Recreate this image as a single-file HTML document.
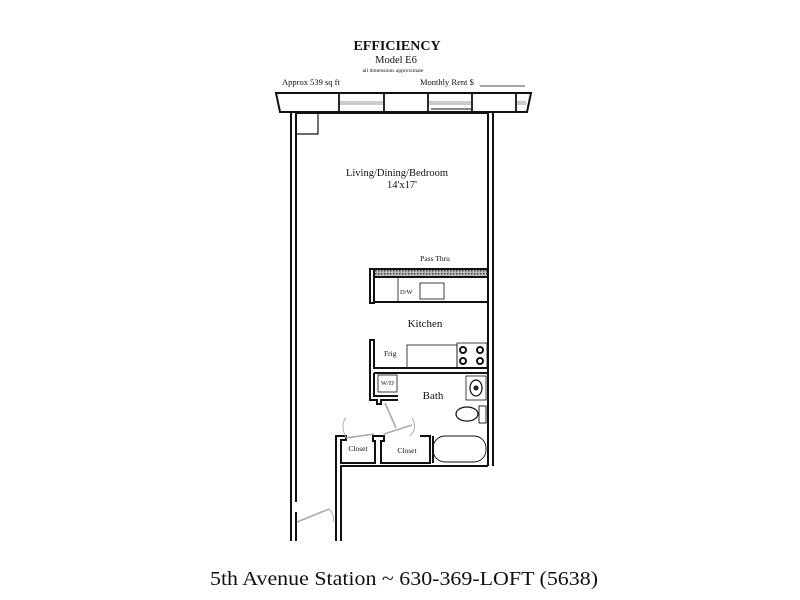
<!DOCTYPE html>
<html><head><style>
body{margin:0;background:#fff;width:800px;height:600px;overflow:hidden}
svg{display:block}
text{font-family:"Liberation Serif",serif;fill:#111}
</style></head><body>
<svg width="800" height="600" viewBox="0 0 800 600">
<defs>
<pattern id="h" width="3" height="3" patternUnits="userSpaceOnUse"><rect width="3" height="3" fill="#bbb"/><rect width="1.5" height="1.5" fill="#444"/></pattern>
</defs>
<text x="397" y="50" font-size="14" font-weight="bold" text-anchor="middle">EFFICIENCY</text>
<text x="396" y="63" font-size="10.5" text-anchor="middle">Model E6</text>
<text x="393" y="72" font-size="5.5" text-anchor="middle" font-family="Liberation Mono">all dimensions approximate</text>
<text x="282" y="85" font-size="8.5">Approx 539 sq ft</text>
<text x="420" y="85" font-size="8.5">Monthly Rent  $</text>
<line x1="480" y1="86" x2="525" y2="86" stroke="#111" stroke-width="0.7"/>
<!-- header band -->
<polygon points="276,93 531,93 527,112 280,112" fill="#fff" stroke="#111" stroke-width="2"/>
<g stroke="#111" stroke-width="1.8">
<line x1="339" y1="93" x2="339" y2="112"/><line x1="384" y1="93" x2="384" y2="112"/>
<line x1="428" y1="93" x2="428" y2="112"/><line x1="472" y1="93" x2="472" y2="112"/>
<line x1="516" y1="93" x2="516" y2="112"/>
</g>
<g fill="#ccc"><rect x="340" y="101" width="43" height="4"/><rect x="429" y="101" width="42" height="4"/><rect x="517" y="101" width="9" height="4"/></g>
<line x1="431" y1="109" x2="471" y2="109" stroke="#111"/>
<!-- walls -->
<g fill="none" stroke="#111" stroke-width="2">
<line x1="291" y1="112" x2="291" y2="541"/><line x1="296" y1="112" x2="296" y2="502"/><line x1="296" y1="512" x2="296" y2="541"/>
<line x1="488" y1="112" x2="488" y2="466"/><line x1="493" y1="112" x2="493" y2="466"/>
<line x1="296" y1="113" x2="488" y2="113"/>
<polyline points="296,134 318,134 318,113" stroke-width="1.2"/>
<!-- kitchen -->
<rect x="370" y="269" width="4" height="34"/>
<rect x="374" y="269" width="114" height="8" fill="url(#h)"/>
<polyline points="374,302 488,302"/>
<line x1="398" y1="277" x2="398" y2="302" stroke-width="0.8"/>
<rect x="420" y="283" width="24" height="16" stroke-width="0.8"/>
<polyline points="370,369 370,340 374,340 374,369"/>
<rect x="407" y="345" width="50" height="23" stroke-width="0.8"/>
<rect x="457" y="343" width="30" height="25" stroke-width="0.8"/>
<circle cx="463" cy="350" r="3"/><circle cx="463" cy="361" r="3"/><circle cx="480" cy="350" r="3"/><circle cx="480" cy="361" r="3"/>
<line x1="374" y1="368" x2="488" y2="368"/>
<!-- bath -->
<polyline points="374,373 488,373"/>
<polyline points="370,369 370,400 377,400 377,404 381,404 381,400 398,400"/>
<polyline points="374,373 374,396 398,396"/>
<rect x="378" y="375" width="19" height="17" stroke-width="0.8"/>
<rect x="466" y="376" width="20" height="24" stroke-width="0.8"/>
<ellipse cx="476" cy="388" rx="6" ry="8" stroke-width="1.2"/><circle cx="476" cy="388" r="1.5"/>
<ellipse cx="467" cy="414" rx="11" ry="7" stroke-width="1.2"/><rect x="479" y="406" width="7" height="17" stroke-width="0.9"/>
<rect x="433" y="436" width="53" height="26" rx="12" stroke-width="0.9"/>
<!-- closets -->
<polyline points="336,541 336,436 346,436 346,440 341,440 341,463 375,463 375,441 373,441 373,436 384,436 384,441 381,441 381,463 430,463 430,436 420,436"/>
<polyline points="341,541 341,466 488,466"/>
<line x1="433" y1="436" x2="433" y2="463"/>
</g>
<g stroke="#aaa" stroke-width="1.6" fill="none">
<line x1="346" y1="438" x2="374" y2="434"/><path d="M346,418 Q340,424 346,438" stroke-width="0.9"/>
<line x1="384" y1="434" x2="412" y2="425"/><path d="M412,418 Q418,428 410,436" stroke-width="0.9"/>
<line x1="385" y1="403" x2="396" y2="428"/>
<line x1="297" y1="522" x2="329" y2="509"/><path d="M329,509 Q335,515 333,522" stroke-width="0.9"/>
</g>
<text x="397" y="176" font-size="10.5" text-anchor="middle">Living/Dining/Bedroom</text>
<text x="387" y="188" font-size="10.5">14'x17'</text>
<text x="435" y="261" font-size="7.5" text-anchor="middle">Pass Thru</text>
<text x="400" y="294" font-size="6.5">D/W</text>
<text x="425" y="327" font-size="11" text-anchor="middle">Kitchen</text>
<text x="384" y="356" font-size="7.5">Frig</text>
<text x="381" y="385" font-size="6.5">W/D</text>
<text x="433" y="399" font-size="11" text-anchor="middle">Bath</text>
<text x="358" y="451" font-size="7.5" text-anchor="middle">Closet</text>
<text x="407" y="453" font-size="7.5" text-anchor="middle">Closet</text>
<text x="210" y="585" font-size="20" textLength="388" lengthAdjust="spacingAndGlyphs">5th Avenue Station ~ 630-369-LOFT (5638)</text>
</svg>
</body></html>
